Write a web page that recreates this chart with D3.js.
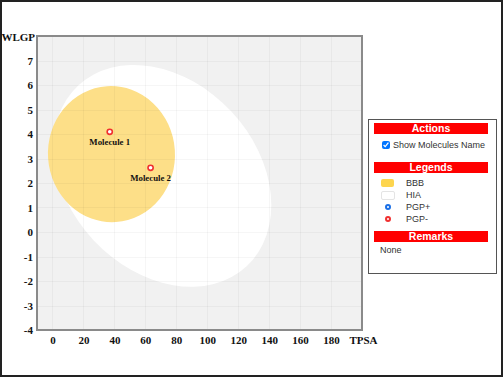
<!DOCTYPE html>
<html>
<head>
<meta charset="utf-8">
<script src="https://cdn.jsdelivr.net/npm/d3@7"></script>
<style>
  body { margin: 0; background: #fff; }
  #wrap { position: relative; width: 503px; height: 377px; overflow: hidden; }
  #chart { position: absolute; left: 0; top: 0; }
  #panel {
    position: absolute; left: 368px; top: 119px; width: 127px; height: 153px;
    border: 1.5px solid #555; background: #fff;
    font-family: "Liberation Sans", Arial, sans-serif; color: #333;
  }
  .bar {
    position: absolute; left: 5px; width: 114px; height: 11px; background: #ff0000;
    color: #fff; font-weight: bold; font-size: 10.5px; line-height: 11px; text-align: center;
  }
  .txt { position: absolute; font-size: 9px; line-height: 10px; white-space: nowrap; }
  #chk { position: absolute; left: 13px; top: 21px; width: 8px; height: 8px; margin: 0; }
</style>
</head>
<body>
<div id="wrap">
  <svg id="chart" width="503" height="377"></svg>
  <div id="panel"></div>
</div>
<script>
// axis ticks
const xTicks = [0, 20, 40, 60, 80, 100, 120, 140, 160, 180, 200];
const yTicks = [-4, -3, -2, -1, 0, 1, 2, 3, 4, 5, 6, 7, 8];
const xTitle = "TPSA", yTitle = "WLGP";

// egg regions (center tpsa/wlogp, radii in data units, tilt in degrees)
const regionNames = ["HIA", "BBB"];
const regionCx = [71.051, 38.117];
const regionCy = [2.292, 3.177];
const regionRx = [79.8, 41.03];
const regionRy = [3.85, 2.78];
const regionTilt = [47, -3.8];
const regionColors = ["#ffffff", "#fddf88"];

// molecules
const molNames = ["Molecule 1", "Molecule 2"];
const molTpsa = [37.0, 63.4];
const molWlogp = [4.09, 2.62];
const molPgp = ["-", "-"];

// legend entries
const legendNames = ["BBB", "HIA", "PGP+", "PGP-"];
const remarks = "None";

const svg = d3.select("#chart");

// page frame
svg.append("rect")
    .attr("x", 1).attr("y", 1).attr("width", 501).attr("height", 375)
    .attr("fill", "none").attr("stroke", "#222").attr("stroke-width", 2);

const plot = {left: 37, right: 362, top: 36, bottom: 330};

const x = d3.scaleLinear().domain([-10, 200]).range([plot.left, plot.right]);
const y = d3.scaleLinear().domain([-4, 8]).range([plot.bottom, plot.top]);

// background
svg.append("rect")
    .attr("x", plot.left).attr("y", plot.top)
    .attr("width", plot.right - plot.left).attr("height", plot.bottom - plot.top)
    .attr("fill", "#f1f1f1");

// egg white and yolk
svg.selectAll("ellipse.region")
    .data(regionNames)
    .enter()
    .append("ellipse")
    .attr("class", "region")
    .attr("cx", (d, i) => x(regionCx[i]))
    .attr("cy", (d, i) => y(regionCy[i]))
    .attr("rx", (d, i) => x(regionCx[i] + regionRx[i]) - x(regionCx[i]))
    .attr("ry", (d, i) => y(regionCy[i]) - y(regionCy[i] + regionRy[i]))
    .attr("transform", (d, i) => "rotate(" + regionTilt[i] + "," + x(regionCx[i]) + "," + y(regionCy[i]) + ")")
    .attr("fill", (d, i) => regionColors[i]);

// grid
const grid = svg.append("g").attr("stroke", "rgba(0,0,0,0.035)").attr("stroke-width", 1);
grid.selectAll("line.v")
    .data(xTicks.slice(0, -1))
    .enter().append("line")
    .attr("x1", d => Math.round(x(d)) + 0.5).attr("x2", d => Math.round(x(d)) + 0.5)
    .attr("y1", plot.top).attr("y2", plot.bottom);
grid.selectAll("line.h")
    .data(yTicks.slice(1, -1))
    .enter().append("line")
    .attr("y1", d => Math.round(y(d)) + 0.5).attr("y2", d => Math.round(y(d)) + 0.5)
    .attr("x1", plot.left).attr("x2", plot.right);

// plot border
svg.append("rect")
    .attr("x", plot.left).attr("y", plot.top)
    .attr("width", plot.right - plot.left).attr("height", plot.bottom - plot.top)
    .attr("fill", "none").attr("stroke", "#8a8a8a").attr("stroke-width", 2);

// axes
const axisFont = "'Liberation Serif', 'Times New Roman', serif";
const xAxis = svg.append("g")
    .attr("transform", "translate(0," + plot.bottom + ")")
    .call(d3.axisBottom(x).tickValues(xTicks).tickSize(0).tickPadding(6)
        .tickFormat(d => d === 200 ? xTitle : d));
const yAxis = svg.append("g")
    .attr("transform", "translate(" + plot.left + ",0)")
    .call(d3.axisLeft(y).tickValues(yTicks).tickSize(0).tickPadding(4)
        .tickFormat(d => d === 8 ? yTitle : d));
[xAxis, yAxis].forEach(a => {
    a.select(".domain").remove();
    a.selectAll("text")
        .attr("font-family", axisFont)
        .attr("font-weight", "bold")
        .attr("font-size", 11)
        .attr("fill", "#111");
});
yAxis.selectAll(".tick text").filter(d => d === 8).attr("dx", 2).attr("dy", "0.45em");
xAxis.selectAll(".tick text").filter(d => d === 200).attr("dx", 1);

// molecules
const mols = svg.append("g");
mols.selectAll("circle")
    .data(molNames)
    .enter().append("circle")
    .attr("cx", (d, i) => x(molTpsa[i]))
    .attr("cy", (d, i) => y(molWlogp[i]))
    .attr("r", 2.6)
    .attr("fill", "#fff")
    .attr("stroke", (d, i) => molPgp[i] === "+" ? "#1a6fe6" : "#f03030")
    .attr("stroke-width", 1.6);
mols.selectAll("text")
    .data(molNames)
    .enter().append("text")
    .attr("x", (d, i) => x(molTpsa[i]))
    .attr("y", (d, i) => y(molWlogp[i]) + 13)
    .attr("text-anchor", "middle")
    .attr("font-family", axisFont)
    .attr("font-weight", "bold")
    .attr("font-size", 8.8)
    .attr("fill", "#111")
    .text(d => d);

// side panel
const panel = d3.select("#panel");
panel.append("div").attr("class", "bar").style("top", "3px").text("Actions");
panel.append("input").attr("type", "checkbox").attr("id", "chk").property("checked", true);
panel.append("div").attr("class", "txt").style("left", "24px").style("top", "20px").text("Show Molecules Name");
panel.append("div").attr("class", "bar").style("top", "42px").text("Legends");

const itemTop = [59, 71, 83, 95];
legendNames.forEach((name, i) => {
    const row = panel.append("div");
    if (i < 2) {
        row.append("div")
            .style("position", "absolute")
            .style("left", "12px").style("top", (itemTop[i]) + "px")
            .style("width", i === 0 ? "13px" : "12px").style("height", i === 0 ? "8px" : "7px")
            .style("border-radius", "2px")
            .style("background", i === 0 ? "#fdd54e" : "#fff")
            .style("border", i === 0 ? "none" : "1px solid #e4e4e4");
    } else {
        row.append("div")
            .style("position", "absolute")
            .style("left", "16px").style("top", (itemTop[i] + 1) + "px")
            .style("width", "2px").style("height", "2px")
            .style("border-radius", "50%")
            .style("background", "#fff")
            .style("border", "2px solid " + (name === "PGP+" ? "#1a6fe6" : "#f03030"));
    }
    row.append("div").attr("class", "txt")
        .style("left", "37px").style("top", (itemTop[i] - 1) + "px")
        .text(name);
});

panel.append("div").attr("class", "bar").style("top", "111px").text("Remarks");
panel.append("div").attr("class", "txt").style("left", "11px").style("top", "125px").text(remarks);
</script>
</body>
</html>
